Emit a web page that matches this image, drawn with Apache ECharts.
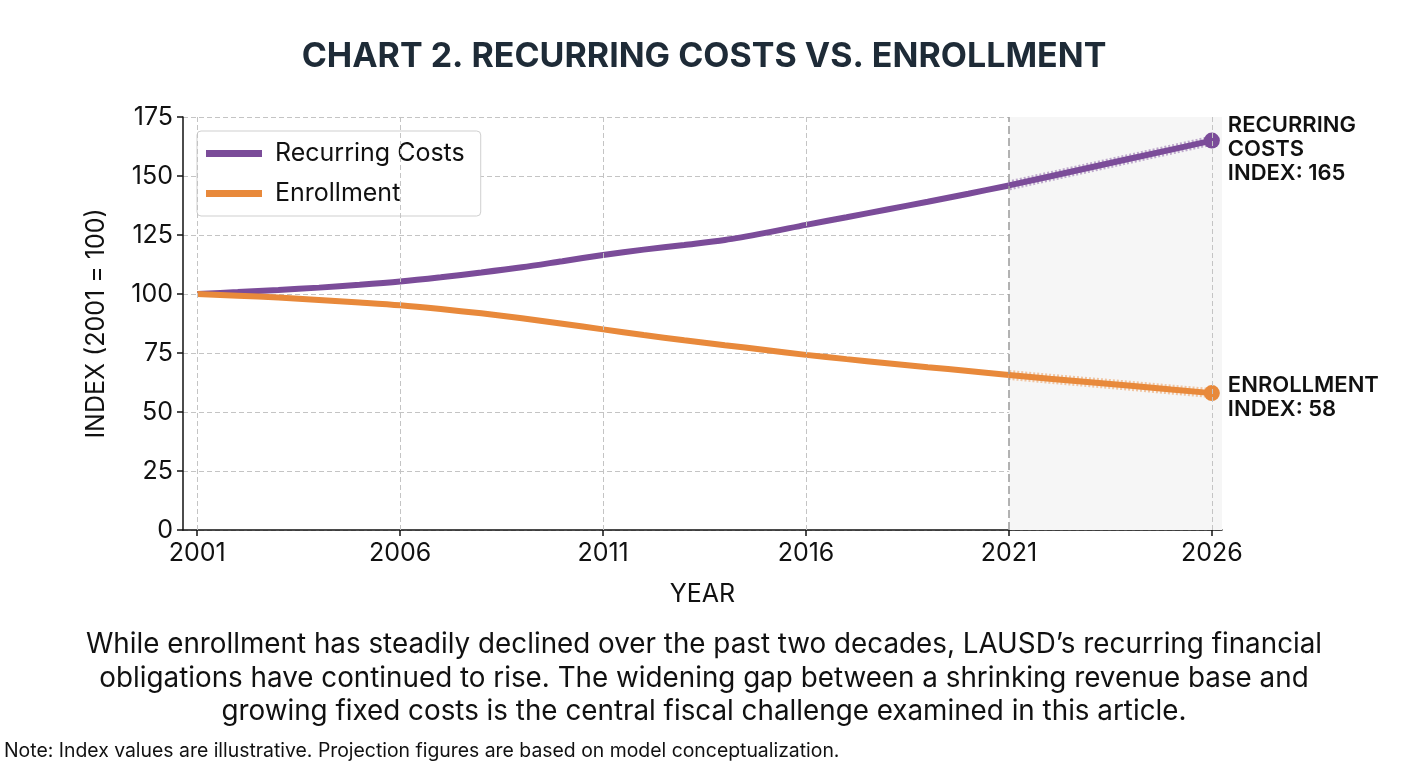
<!DOCTYPE html>
<html>
<head>
<meta charset="utf-8">
<title>Chart 2. Recurring Costs vs. Enrollment</title>
<script src="https://cdn.jsdelivr.net/npm/echarts@6/dist/echarts.min.js"></script>
<style>
    html, body { margin: 0; padding: 0; background: #fff; }
    #chart { width: 1408px; height: 768px; }
</style>
</head>
<body>
<div id="chart"></div>
<script>
// years and index values (2001 = 100)
var years = [2001, 2002, 2003, 2004, 2005, 2006, 2007, 2008, 2009, 2010, 2011, 2012, 2013,
             2014, 2015, 2016, 2017, 2018, 2019, 2020, 2021, 2022, 2023, 2024, 2025, 2026];
var costs = [100, 100.8, 101.7, 102.7, 103.9, 105.3, 107.1, 109.1, 111.3, 113.9, 116.5, 118.8, 120.8,
             122.9, 125.9, 129.3, 132.5, 135.8, 139.1, 142.5, 146, 149.8, 153.6, 157.4, 161.2, 165];
var enroll = [100, 99.3, 98.5, 97.5, 96.4, 95.2, 93.6, 91.8, 89.7, 87.4, 85, 82.6, 80.4,
              78.3, 76.3, 74.2, 72.4, 70.7, 69, 67.4, 65.7, 64.1, 62.6, 61.1, 59.5, 58];
var tickYears = [2001, 2006, 2011, 2016, 2021, 2026];
var projStart = 2021;

var caption = 'While enrollment has steadily declined over the past two decades, LAUSD\u2019s recurring financial\n' +
    'obligations have continued to rise. The widening gap between a shrinking revenue base and\n' +
    'growing fixed costs is the central fiscal challenge examined in this article.';
var note = 'Note: Index values are illustrative. Projection figures are based on model conceptualization.';

var purple = '#7b4c99';
var orange = '#e8893b';
var font = 'Inter, "Open Sans", sans-serif';

function pairs(vals, from, to) {
    var out = [];
    for (var i = 0; i < years.length; i++) {
        if (years[i] >= from && years[i] <= to) out.push([years[i], vals[i]]);
    }
    return out;
}

// last point gets the dot and the end label, the rest stay bare
function endPoints(vals, text, dy) {
    return pairs(vals, projStart, 2026).map(function (p, i, arr) {
        if (i < arr.length - 1) return { value: p, symbolSize: 0 };
        return {
            value: p,
            label: {
                show: true,
                position: 'right',
                distance: 8,
                offset: [0, dy],
                formatter: text + p[1],
                fontFamily: font,
                fontSize: 22,
                fontWeight: 600,
                lineHeight: 24,
                color: '#111'
            }
        };
    });
}

var chart = echarts.init(document.getElementById('chart'));

var option = {
    backgroundColor: '#fff',
    animation: false,
    title: {
        text: 'CHART 2. RECURRING COSTS VS. ENROLLMENT',
        left: 'center',
        top: 35,
        textStyle: { fontFamily: font, fontSize: 34, fontWeight: 'bold', color: '#1e2b37' }
    },
    graphic: [{
        type: 'text',
        x: 704,
        y: 628,
        style: {
            text: caption,
            align: 'center',
            fontFamily: font,
            fontSize: 27.8,
            lineHeight: 33.5,
            fill: '#111'
        }
    }, {
        type: 'text',
        x: 4,
        y: 742,
        style: { text: note, fontFamily: font, fontSize: 19.4, fill: '#111' }
    }],
    legend: {
        data: ['Recurring Costs', 'Enrollment'],
        orient: 'vertical',
        left: 197,
        top: 131,
        padding: [10, 16, 10, 9],
        itemGap: 15,
        itemWidth: 56,
        itemHeight: 7,
        icon: 'rect',
        borderColor: '#cfcfcf',
        borderWidth: 1,
        borderRadius: 4,
        backgroundColor: '#fff',
        textStyle: { fontFamily: font, fontSize: 25, color: '#111', padding: [0, 0, 0, 8] }
    },
    grid: { left: 183, right: 186, top: 117, bottom: 238 },
    xAxis: {
        type: 'value',
        min: 2000.65,
        max: 2026.25,
        name: 'YEAR',
        nameLocation: 'middle',
        nameGap: 52,
        nameTextStyle: { fontFamily: font, fontSize: 25, color: '#111' },
        axisLine: { lineStyle: { color: '#111', width: 1.5 } },
        axisTick: { customValues: tickYears, length: 6, lineStyle: { color: '#111', width: 1.5 } },
        axisLabel: {
            customValues: tickYears,
            formatter: function (v) { return String(v); },
            fontFamily: font, fontSize: 25, color: '#111', margin: 11
        },
        splitLine: { show: false }
    },
    yAxis: {
        type: 'value',
        min: 0,
        max: 175,
        interval: 25,
        name: 'INDEX (2001 = 100)',
        nameLocation: 'middle',
        nameGap: 74,
        nameTextStyle: { fontFamily: font, fontSize: 25, color: '#111' },
        axisLine: { show: true, lineStyle: { color: '#111', width: 1.5 } },
        axisTick: { show: true, length: 6, lineStyle: { color: '#111', width: 1.5 } },
        axisLabel: { fontFamily: font, fontSize: 25, color: '#111', margin: 10 },
        splitLine: { lineStyle: { color: '#c4c4c4', type: [5, 3], width: 1 } }
    },
    series: [{
        // shaded projection area + vertical grid lines
        type: 'line',
        data: [],
        silent: true,
        markArea: {
            silent: true,
            itemStyle: { color: '#f6f6f6' },
            data: [[{ xAxis: projStart }, { xAxis: 2026.25 }]]
        },
        markLine: {
            silent: true,
            symbol: 'none',
            label: { show: false },
            lineStyle: { color: '#c4c4c4', type: [5, 3], width: 1 },
            data: tickYears.filter(function (y) { return y !== projStart; }).map(function (y) { return { xAxis: y }; })
                .concat([{ xAxis: projStart, lineStyle: { color: '#9a9a9a', type: [8, 4], width: 1.5 } }])
        }
    }, {
        name: 'Recurring Costs',
        type: 'line',
        smooth: 0.3,
        showSymbol: false,
        color: purple,
        lineStyle: { width: 6, color: purple },
        data: pairs(costs, 2001, projStart),
        z: 3
    }, {
        name: 'Enrollment',
        type: 'line',
        smooth: 0.3,
        showSymbol: false,
        color: orange,
        lineStyle: { width: 6, color: orange },
        data: pairs(enroll, 2001, projStart),
        z: 3
    }, {
        // projection halo
        type: 'line',
        showSymbol: false,
        lineStyle: { width: 10, color: purple, opacity: 0.45, type: [2, 2] },
        data: pairs(costs, projStart, 2026),
        z: 2
    }, {
        type: 'line',
        showSymbol: false,
        lineStyle: { width: 10, color: orange, opacity: 0.45, type: [2, 2] },
        data: pairs(enroll, projStart, 2026),
        z: 2
    }, {
        type: 'line',
        symbol: 'circle',
        symbolSize: 16,
        showSymbol: true,
        lineStyle: { width: 6, color: purple },
        itemStyle: { color: purple },
        data: endPoints(costs, 'RECURRING\nCOSTS\nINDEX: ', 9),
        z: 3
    }, {
        type: 'line',
        symbol: 'circle',
        symbolSize: 16,
        showSymbol: true,
        lineStyle: { width: 6, color: orange },
        itemStyle: { color: orange },
        data: endPoints(enroll, 'ENROLLMENT\nINDEX: ', 4),
        z: 3
    }]
};

chart.setOption(option);
</script>
</body>
</html>
